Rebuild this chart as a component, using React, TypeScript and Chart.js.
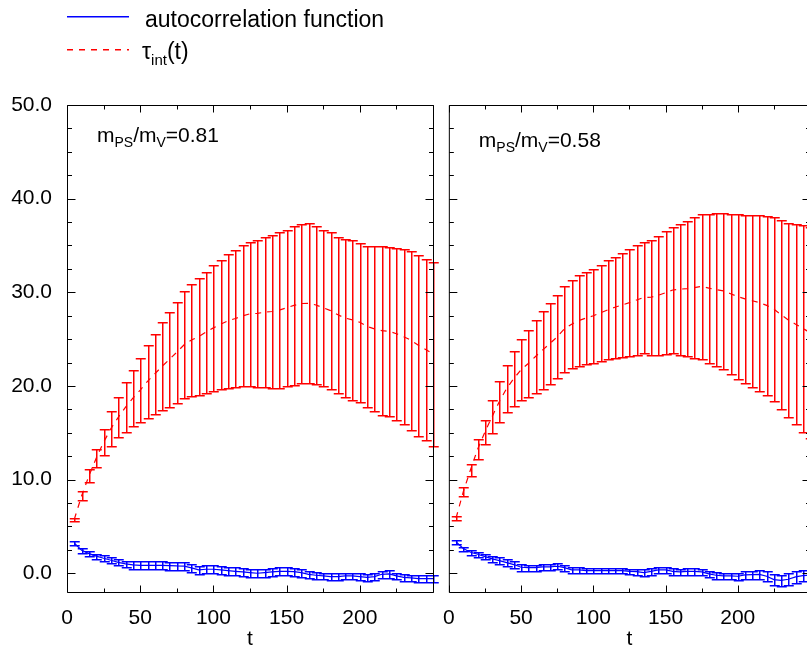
import React, { useEffect, useRef } from "react";
import { Chart, registerables } from "chart.js";

Chart.register(...registerables);

// ---------------- data ----------------
const T = [
  5, 10, 15, 20, 25, 30, 35, 40, 45, 50,
  55, 60, 65, 70, 75, 80, 85, 90, 95, 100,
  105, 110, 115, 120, 125, 130, 135, 140, 145, 150,
  155, 160, 165, 170, 175, 180, 185, 190, 195, 200,
  205, 210, 215, 220, 225, 230, 235, 240, 245, 250,
];

// panel 1: m_PS/m_V = 0.81
const TAU_MEAN_081 = [
  5.77, 8.27, 10.41, 12.3, 14.0, 15.45, 16.65, 17.75, 18.7, 19.55,
  20.5, 21.3, 22.1, 22.85, 23.6, 24.4, 24.9, 25.28, 25.75, 26.2,
  26.6, 26.95, 27.2, 27.48, 27.7, 27.75, 27.88, 27.95, 28.1, 28.35,
  28.6, 28.8, 28.83, 28.65, 28.35, 28.05, 27.6, 27.25, 27.05, 26.8,
  26.35, 26.1, 25.9, 25.83, 25.58, 25.25, 24.88, 24.35, 23.9, 23.4,
];
const TAU_ERR_081 = [
  0.18, 0.47, 0.69, 1.0, 1.4, 1.85, 2.15, 2.65, 3.0, 3.45,
  3.9, 4.3, 4.7, 5.05, 5.4, 5.7, 6.0, 6.23, 6.45, 6.7,
  6.9, 7.15, 7.3, 7.53, 7.7, 7.85, 8.03, 8.15, 8.3, 8.35,
  8.5, 8.5, 8.53, 8.45, 8.35, 8.35, 8.3, 8.45, 8.55, 8.5,
  8.55, 8.8, 9.0, 9.03, 9.18, 9.35, 9.53, 9.65, 9.7, 9.8,
];
const ACF_MEAN_081 = [
  3.2, 2.46, 2.1, 1.83, 1.6, 1.39, 1.17, 1.0, 0.89, 0.85,
  0.85, 0.85, 0.85, 0.82, 0.78, 0.76, 0.57, 0.36, 0.43, 0.43,
  0.36, 0.28, 0.21, 0.14, 0.07, 0.0, 0.07, 0.14, 0.21, 0.21,
  0.18, 0.07, -0.11, -0.21, -0.28, -0.36, -0.36, -0.28, -0.28, -0.36,
  -0.43, -0.36, -0.11, -0.07, -0.28, -0.43, -0.5, -0.57, -0.57, -0.57,
];
const ACF_ERR_081 = [
  0.21, 0.25, 0.25, 0.27, 0.32, 0.32, 0.32, 0.36, 0.39, 0.43,
  0.43, 0.43, 0.43, 0.43, 0.43, 0.43, 0.43, 0.43, 0.43, 0.43,
  0.43, 0.43, 0.43, 0.43, 0.43, 0.43, 0.43, 0.43, 0.43, 0.43,
  0.43, 0.43, 0.39, 0.36, 0.36, 0.36, 0.36, 0.36, 0.36, 0.36,
  0.36, 0.36, 0.39, 0.39, 0.36, 0.36, 0.36, 0.36, 0.36, 0.36,
];

// panel 2: m_PS/m_V = 0.58
const TAU_MEAN_058 = [
  5.9, 8.7, 11.05, 13.28, 15.08, 16.75, 18.35, 19.73, 20.8, 21.73,
  22.4, 23.15, 23.85, 24.53, 25.25, 26.1, 26.6, 26.98, 27.25, 27.5,
  27.8, 28.13, 28.4, 28.65, 28.9, 29.18, 29.45, 29.48, 29.68, 29.95,
  30.25, 30.33, 30.4, 30.5, 30.63, 30.45, 30.28, 30.15, 29.85, 29.53,
  29.3, 29.1, 28.9, 28.6, 28.2, 27.6, 27.05, 26.6, 26.15, 25.7,
];
const TAU_ERR_058 = [
  0.2, 0.5, 0.65, 1.03, 1.33, 1.75, 2.15, 2.53, 2.9, 3.28,
  3.6, 3.85, 4.15, 4.33, 4.45, 4.6, 4.7, 4.83, 4.95, 5.0,
  5.1, 5.28, 5.4, 5.55, 5.7, 5.83, 5.95, 6.13, 6.33, 6.55,
  6.75, 6.98, 7.2, 7.5, 7.73, 7.95, 8.18, 8.35, 8.55, 8.83,
  9.0, 9.2, 9.4, 9.6, 9.8, 10.1, 10.35, 10.7, 11.05, 11.3,
];
const ACF_MEAN_058 = [
  3.35, 2.64, 2.24, 2.03, 1.78, 1.53, 1.35, 1.14, 0.93, 0.64,
  0.6, 0.6, 0.68, 0.68, 0.75, 0.6, 0.36, 0.36, 0.28, 0.28,
  0.28, 0.28, 0.28, 0.28, 0.21, 0.18, 0.07, 0.21, 0.36, 0.36,
  0.21, 0.14, 0.21, 0.21, 0.14, -0.07, -0.21, -0.28, -0.28, -0.32,
  -0.18, -0.14, -0.11, -0.32, -0.68, -0.75, -0.64, -0.39, -0.25, -0.2,
];
const ACF_ERR_058 = [
  0.21, 0.21, 0.25, 0.25, 0.28, 0.32, 0.36, 0.36, 0.36, 0.36,
  0.32, 0.32, 0.32, 0.32, 0.32, 0.32, 0.28, 0.28, 0.28, 0.28,
  0.28, 0.28, 0.28, 0.28, 0.28, 0.32, 0.36, 0.36, 0.36, 0.36,
  0.36, 0.36, 0.36, 0.36, 0.36, 0.36, 0.36, 0.36, 0.36, 0.39,
  0.39, 0.43, 0.46, 0.53, 0.6, 0.6, 0.64, 0.6, 0.6, 0.6,
];

const X_TICK_LABELS = [0, 50, 100, 150, 200];
const Y_TICK_LABELS = [0, 10, 20, 30, 40, 50];
const X_MIN = 0;
const X_MAX = 250;
const Y_MIN = -2;
const Y_MAX = 50;
const LEGEND_ACF = "autocorrelation function";
const LEGEND_TAU = ["τ", "int", "(t)"];
const RATIO_1 = "0.81";
const RATIO_2 = "0.58";

// ---------------- styling ----------------
const FONT = "'Liberation Sans', Arial, Helvetica, sans-serif";
const RED = "#ff0000";
const BLUE = "#0000ff";
const LW = 1.5;

// ---------------- plugins ----------------
const errorBarsPlugin = {
  id: "errorBars",
  afterDatasetsDraw(chart: any) {
    const { ctx } = chart;
    const xs = chart.scales.x;
    const ys = chart.scales.y;
    chart.data.datasets.forEach((ds: any) => {
      const errs: number[] | undefined = ds.errors;
      if (!errs) return;
      ctx.save();
      ctx.strokeStyle = ds.borderColor;
      ctx.lineWidth = LW;
      ctx.setLineDash([]);
      ctx.beginPath();
      ds.data.forEach((p: any, j: number) => {
        const x = Math.round(xs.getPixelForValue(p.x)) + 0.75;
        const yt = Math.round(ys.getPixelForValue(p.y + errs[j])) + 0.75;
        const yb = Math.round(ys.getPixelForValue(p.y - errs[j])) + 0.75;
        ctx.moveTo(x, yt);
        ctx.lineTo(x, yb);
        ctx.moveTo(x - 5, yt);
        ctx.lineTo(x + 5, yt);
        ctx.moveTo(x - 5, yb);
        ctx.lineTo(x + 5, yb);
      });
      ctx.stroke();
      ctx.restore();
    });
  },
};

const frameTicksPlugin = {
  id: "frameTicks",
  afterDraw(chart: any) {
    const { ctx, chartArea } = chart;
    const xs = chart.scales.x;
    const ys = chart.scales.y;
    const L = chartArea.left + 0.5;
    const R = chartArea.right + 0.5;
    const Tp = chartArea.top + 0.5;
    const B = chartArea.bottom + 0.5;
    ctx.save();
    ctx.strokeStyle = "#000";
    ctx.lineWidth = 1;
    ctx.setLineDash([]);
    ctx.beginPath();
    ctx.rect(L, Tp, R - L, B - Tp);
    for (let v = X_MIN; v <= X_MAX; v += 25) {
      const len = v % 50 === 0 ? 7 : 4;
      const x = Math.round(xs.getPixelForValue(v)) + 0.5;
      ctx.moveTo(x, B);
      ctx.lineTo(x, B - len);
      ctx.moveTo(x, Tp);
      ctx.lineTo(x, Tp + len);
    }
    for (let v = 0; v <= Y_MAX; v += 2.5) {
      const len = v % 10 === 0 ? 8 : 4.5;
      const y = Math.round(ys.getPixelForValue(v)) + 0.5;
      ctx.moveTo(L, y);
      ctx.lineTo(L + len, y);
      ctx.moveTo(R, y);
      ctx.lineTo(R - len, y);
    }
    ctx.stroke();
    ctx.restore();
  },
};

function drawParts(ctx: CanvasRenderingContext2D, x: number, y: number, parts: [string, number, number][]) {
  let cx = x;
  for (const [s, size, dy] of parts) {
    ctx.font = `${size}px ${FONT}`;
    ctx.fillText(s, cx, y + dy);
    cx += ctx.measureText(s).width;
  }
}

const ratioLabelPlugin = {
  id: "ratioLabel",
  afterDraw(chart: any, _args: any, opts: any) {
    if (!opts || !opts.text) return;
    const { ctx, chartArea } = chart;
    ctx.save();
    ctx.fillStyle = "#000";
    ctx.textAlign = "left";
    ctx.textBaseline = "alphabetic";
    drawParts(ctx, chartArea.left + opts.dx, chartArea.top + opts.dy, [
      ["m", 21, 0],
      ["PS", 14, 5],
      ["/m", 21, 0],
      ["V", 14, 5],
      ["=" + opts.text, 21, 0],
    ]);
    ctx.restore();
  },
};

const keyPlugin = {
  id: "keyBox",
  afterDraw(chart: any, _args: any, opts: any) {
    if (!opts || !opts.show) return;
    const { ctx, chartArea } = chart;
    const x0 = chartArea.left;
    ctx.save();
    ctx.lineWidth = LW;
    ctx.strokeStyle = BLUE;
    ctx.setLineDash([]);
    ctx.beginPath();
    ctx.moveTo(x0, 16.75);
    ctx.lineTo(x0 + 62, 16.75);
    ctx.stroke();
    ctx.strokeStyle = RED;
    ctx.setLineDash([6, 6]);
    ctx.beginPath();
    ctx.moveTo(x0, 49.75);
    ctx.lineTo(x0 + 62, 49.75);
    ctx.stroke();
    ctx.setLineDash([]);
    ctx.fillStyle = "#000";
    ctx.textAlign = "left";
    ctx.textBaseline = "alphabetic";
    ctx.font = `23px ${FONT}`;
    ctx.fillText(LEGEND_ACF, x0 + 78, 26.5);
    drawParts(ctx, x0 + 75, 59, [
      [LEGEND_TAU[0], 23, 0],
      [LEGEND_TAU[1], 15, 6],
      [LEGEND_TAU[2], 23, 0],
    ]);
    ctx.restore();
  },
};

// ---------------- config ----------------
function makeConfig(p: {
  tauMean: number[];
  tauErr: number[];
  acfMean: number[];
  acfErr: number[];
  yWidth: number;
  showYLabels: boolean;
  ratio: string;
  labelDy: number;
  showKey: boolean;
}): any {
  const tickFont = { family: FONT, size: 21 };
  return {
    type: "line",
    data: {
      datasets: [
        {
          label: "tau_int",
          data: T.map((t, i) => ({ x: t, y: p.tauMean[i] })),
          errors: p.tauErr,
          borderColor: RED,
          backgroundColor: RED,
          borderWidth: 1.2,
          borderDash: [6, 6],
          pointRadius: 0,
          fill: false,
          tension: 0,
        },
        {
          label: "acf",
          data: T.map((t, i) => ({ x: t, y: p.acfMean[i] })),
          errors: p.acfErr,
          borderColor: BLUE,
          backgroundColor: BLUE,
          borderWidth: 1.2,
          pointRadius: 0,
          fill: false,
          tension: 0,
        },
      ],
    },
    options: {
      responsive: false,
      animation: false,
      events: [],
      layout: { padding: { top: 105, right: 7, left: 0, bottom: 0 } },
      plugins: {
        legend: { display: false },
        tooltip: { enabled: false },
        ratioLabel: { text: p.ratio, dx: 30, dy: p.labelDy },
        keyBox: { show: p.showKey },
      },
      scales: {
        x: {
          type: "linear",
          min: X_MIN,
          max: X_MAX,
          grid: { display: false },
          border: { display: false },
          afterBuildTicks: (s: any) => {
            s.ticks = X_TICK_LABELS.map((v) => ({ value: v }));
          },
          ticks: {
            autoSkip: false,
            maxRotation: 0,
            padding: 6,
            color: "#000",
            font: tickFont,
            callback: (v: number) => String(v),
          },
          title: {
            display: true,
            text: "t",
            color: "#000",
            font: tickFont,
            padding: { top: 0, bottom: 0 },
          },
          afterFit: (s: any) => {
            s.height = 60;
          },
        },
        y: {
          type: "linear",
          min: Y_MIN,
          max: Y_MAX,
          grid: { display: false },
          border: { display: false },
          afterBuildTicks: (s: any) => {
            s.ticks = Y_TICK_LABELS.map((v) => ({ value: v }));
          },
          ticks: {
            display: p.showYLabels,
            autoSkip: false,
            padding: 7,
            color: "#000",
            font: tickFont,
            callback: (v: number) => v.toFixed(1),
          },
          afterFit: (s: any) => {
            s.width = p.yWidth;
          },
        },
      },
    },
    plugins: [errorBarsPlugin, frameTicksPlugin, ratioLabelPlugin, keyPlugin],
  };
}

export default function App() {
  const leftRef = useRef<HTMLCanvasElement>(null);
  const rightRef = useRef<HTMLCanvasElement>(null);

  useEffect(() => {
    document.body.style.margin = "0";
    document.body.style.overflow = "hidden";
    const c1 = new Chart(
      leftRef.current as HTMLCanvasElement,
      makeConfig({
        tauMean: TAU_MEAN_081,
        tauErr: TAU_ERR_081,
        acfMean: ACF_MEAN_081,
        acfErr: ACF_ERR_081,
        yWidth: 67,
        showYLabels: true,
        ratio: RATIO_1,
        labelDy: 37,
        showKey: true,
      })
    );
    const c2 = new Chart(
      rightRef.current as HTMLCanvasElement,
      makeConfig({
        tauMean: TAU_MEAN_058,
        tauErr: TAU_ERR_058,
        acfMean: ACF_MEAN_058,
        acfErr: ACF_ERR_058,
        yWidth: 7,
        showYLabels: false,
        ratio: RATIO_2,
        labelDy: 42,
        showKey: false,
      })
    );
    return () => {
      c1.destroy();
      c2.destroy();
    };
  }, []);

  return (
    <div style={{ position: "relative", width: 807, height: 652, overflow: "hidden", background: "#fff" }}>
      <canvas
        ref={leftRef}
        width={440}
        height={652}
        style={{ position: "absolute", left: 0, top: 0, width: 440, height: 652 }}
      />
      <canvas
        ref={rightRef}
        width={380}
        height={652}
        style={{ position: "absolute", left: 437, top: 0, width: 380, height: 652 }}
      />
    </div>
  );
}
